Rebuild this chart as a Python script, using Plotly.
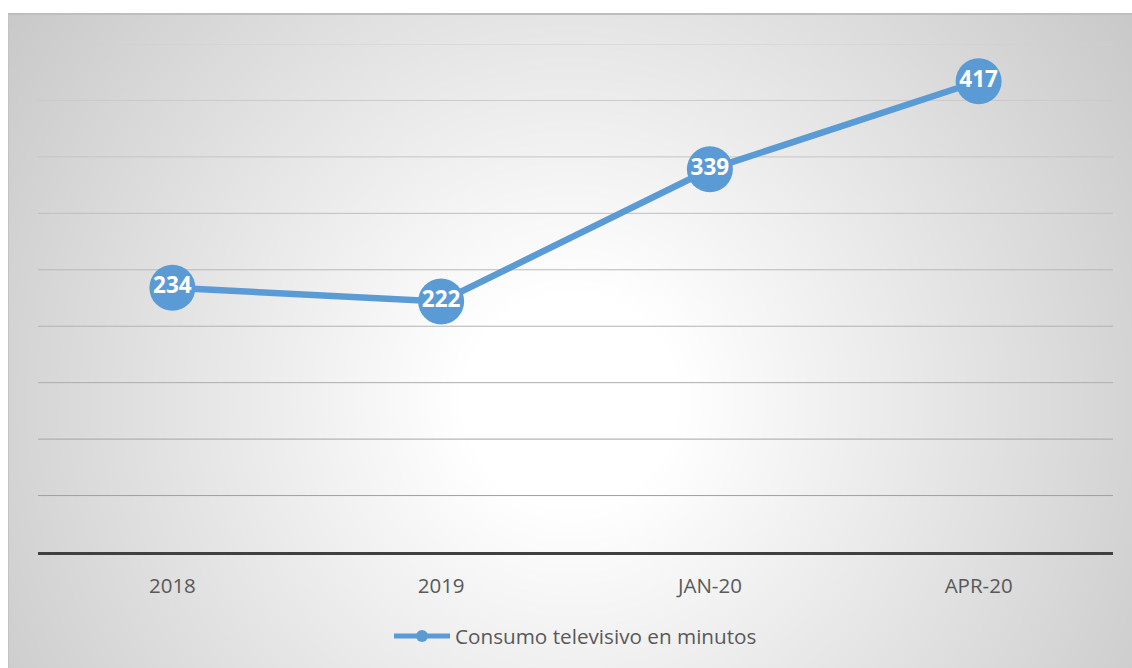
import base64
import struct
import zlib

import numpy as np
import plotly.graph_objects as go

# ---------------- data ----------------
categories = ["2018", "2019", "JAN-20", "APR-20"]
values = [234, 222, 339, 417]
series_name = "Consumo televisivo en minutos"
grid_values = [50, 100, 150, 200, 250, 300, 350, 400, 450]

# ---------------- figure geometry ----------------
W, H = 1132, 668
ML, MR, MT, MB = 38, 19, 44, 116
PW, PH = W - ML - MR, H - MT - MB

# ---------------- radial gradient background (style only) ----------------
BX0, BY0 = 8, 13            # chart frame top-left in page pixels
BW, BH = W - BX0, H - BY0
yy, xx = np.mgrid[0:BH, 0:BW].astype(float)
cx, cy = 570 - BX0, 400 - BY0
r = np.sqrt((xx - cx) ** 2 + (yy - cy) ** 2)
drop = np.clip((r - 110) / 582.0, 0, None) * 55
val = np.clip(255 - drop, 180, 255)
val[0:2, :] = np.minimum(val[0:2, :], 190)
val[:, 0:1] = np.minimum(val[:, 0:1], 195)
arr = np.repeat(val[:, :, None], 3, axis=2).astype(np.uint8)


def png_bytes(a):
    h, w, _ = a.shape
    raw = b"".join(b"\x00" + a[i].tobytes() for i in range(h))

    def chunk(t, d):
        c = struct.pack(">I", len(d)) + t + d
        return c + struct.pack(">I", zlib.crc32(t + d) & 0xFFFFFFFF)

    return (b"\x89PNG\r\n\x1a\n"
            + chunk(b"IHDR", struct.pack(">IIBBBBB", w, h, 8, 2, 0, 0, 0))
            + chunk(b"IDAT", zlib.compress(raw, 9))
            + chunk(b"IEND", b""))


bg_src = "data:image/png;base64," + base64.b64encode(png_bytes(arr)).decode()

BLUE = "#5B9BD5"
TXT = "#595959"
FONT = "Open Sans"

fig = go.Figure()
fig.add_trace(go.Scatter(
    x=categories, y=values, name=series_name,
    mode="lines+markers",
    line=dict(color=BLUE, width=6.5),
    marker=dict(color=BLUE, size=46),
    hoverinfo="skip",
))
fig.add_trace(go.Scatter(
    x=categories, y=values, mode="text", showlegend=False,
    text=[str(v) for v in values], textposition="middle center",
    textfont=dict(family=FONT, size=22.5, color="white", weight=700),
    hoverinfo="skip",
))

# graded gridlines (lighter at top, darker at bottom)
shapes = []
for v in grid_values:
    t = v / 450.0
    c = int(round(154 + (208 - 154) * t))
    shapes.append(dict(type="line", xref="paper", x0=0, x1=1, yref="y", y0=v, y1=v,
                       line=dict(color=f"rgb({c},{c},{c})", width=1), layer="below"))

fig.update_layout(
    width=W, height=H,
    margin=dict(l=ML, r=MR, t=MT, b=MB, pad=0),
    paper_bgcolor="white",
    plot_bgcolor="rgba(0,0,0,0)",
    images=[dict(source=bg_src, xref="paper", yref="paper",
                 x=(BX0 - ML) / PW, y=(H - MB - BY0) / PH,
                 sizex=BW / PW, sizey=BH / PH,
                 xanchor="left", yanchor="top", sizing="stretch", layer="below")],
    shapes=shapes,
    xaxis=dict(
        type="category", range=[-0.5, 3.5],
        showgrid=False, zeroline=False,
        showline=True, linecolor="#404040", linewidth=3,
        ticks="outside", ticklen=13, tickcolor="rgba(0,0,0,0)",
        tickfont=dict(family=FONT, size=20.5, color=TXT),
    ),
    yaxis=dict(range=[0, 450], showgrid=False, zeroline=False,
               showticklabels=False, showline=False, ticks=""),
    legend=dict(orientation="h", x=0.5, xanchor="center",
                y=(H - MB - 636) / PH, yanchor="middle",
                font=dict(family=FONT, size=20.7, color=TXT),
                itemsizing="constant", itemwidth=56,
                bgcolor="rgba(0,0,0,0)"),
    showlegend=True,
)

fig.write_html("out.html")
